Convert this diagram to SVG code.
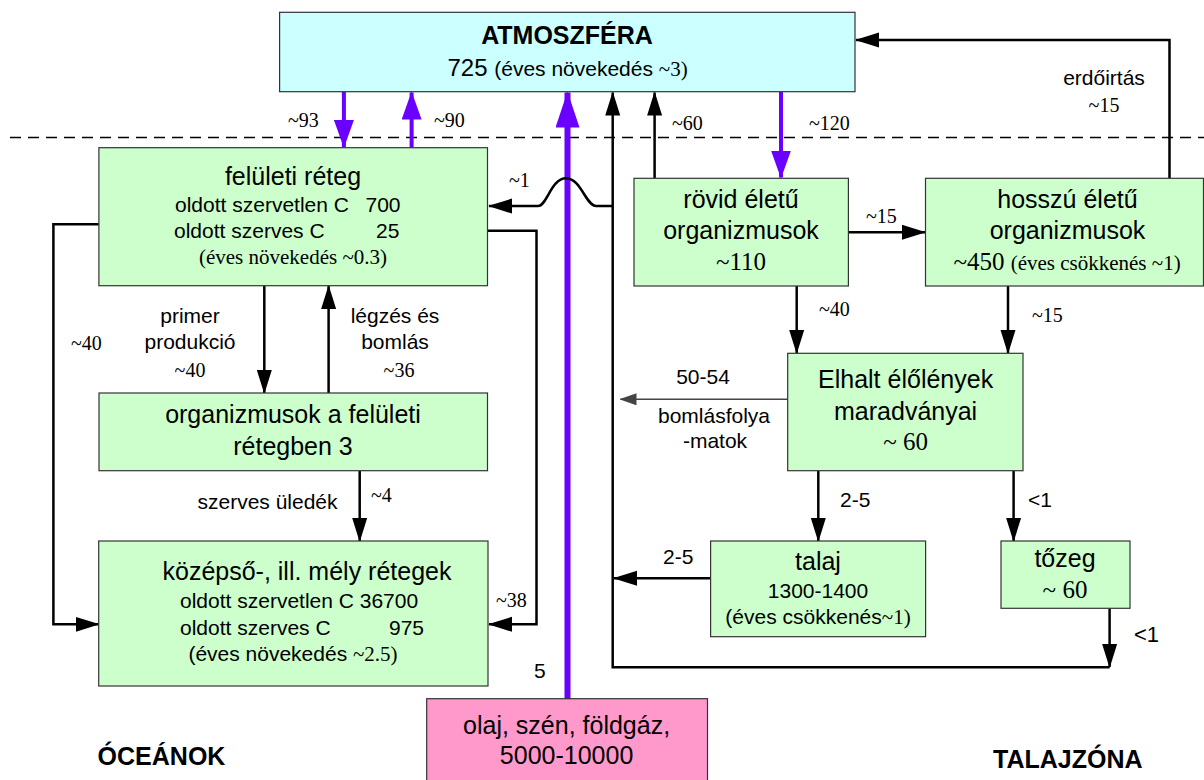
<svg xmlns="http://www.w3.org/2000/svg" width="1204" height="780" viewBox="0 0 1204 780">
<style>
.box{stroke:#333;stroke-width:1.2}
.g{fill:#CCFFCC}.c{fill:#CCFFFF}.p{fill:#FF99CC}
text{fill:#000}
.s{font-family:"Liberation Sans",Arial,sans-serif}
.t{font-family:"Liberation Serif","Times New Roman",serif}
.b{font-weight:bold;font-size:25px}
.m{font-size:25px}.sub{font-size:21px}.lab{font-size:20px}
.mid{text-anchor:middle}.end{text-anchor:end}
.ln{fill:none;stroke:#000;stroke-width:2.5}
.pl{fill:none;stroke:#6A00FF;stroke-width:4}
.pb{fill:none;stroke:#6A00FF;stroke-width:6}
.thin{fill:none;stroke:#444;stroke-width:1.5}
.dash{fill:none;stroke:#000;stroke-width:1.5;stroke-dasharray:11 7}
</style>
<defs>
<marker id="ah" markerUnits="userSpaceOnUse" markerWidth="24" markerHeight="16" refX="23" refY="8" orient="auto"><path d="M0,0.5 L24,8 L0,15.5 z" fill="#000"/></marker>
<marker id="ahp" markerUnits="userSpaceOnUse" markerWidth="28" markerHeight="20" refX="27" refY="10" orient="auto"><path d="M0,0 L28,10 L0,20 z" fill="#6A00FF"/></marker>
<marker id="ahb" markerUnits="userSpaceOnUse" markerWidth="36" markerHeight="24" refX="35" refY="12" orient="auto"><path d="M0,0 L36,12 L0,24 z" fill="#6A00FF"/></marker>
<marker id="aht" markerUnits="userSpaceOnUse" markerWidth="17" markerHeight="12" refX="16" refY="6" orient="auto"><path d="M0,0 L17,6 L0,12 z" fill="#444"/></marker>
</defs>
<rect width="1204" height="780" fill="#fff"/>
<line class="dash" x1="10" y1="137.5" x2="1204" y2="137.5"/>

<g id="connectors">
<path class="pl" d="M343.9,92 V147" marker-end="url(#ahp)"/>
<path class="pl" d="M411.6,147.7 V92.5" marker-end="url(#ahp)"/>
<path class="pb" d="M567.5,699 V92.5" marker-end="url(#ahb)"/>
<path class="pl" d="M781,92 V177.5" marker-end="url(#ahp)"/>
<path class="ln" d="M1109.6,608.3 V667" marker-end="url(#ah)"/>
<path class="ln" d="M1109.6,667.3 H612.7 V92.5" marker-end="url(#ah)"/>
<path class="ln" d="M654.6,178.3 V92.5" marker-end="url(#ah)"/>
<path class="ln" d="M1169.5,178.3 V40 H856" marker-end="url(#ah)"/>
<path class="ln" d="M848.4,232.3 H925" marker-end="url(#ah)"/>
<path class="ln" d="M796.7,286 V353" marker-end="url(#ah)"/>
<path class="ln" d="M1008,286 V353" marker-end="url(#ah)"/>
<path class="thin" d="M787.7,399.3 H620.5" marker-end="url(#aht)"/>
<path class="ln" d="M818.3,470.7 V541" marker-end="url(#ah)"/>
<path class="ln" d="M1013.6,470.7 V541" marker-end="url(#ah)"/>
<path class="ln" d="M710.6,578.3 H614" marker-end="url(#ah)"/>
<path class="ln" d="M612.7,206 H596 C586,206 581,178.3 566,178.3 C551,178.3 547,206 538,206 H489" marker-end="url(#ah)"/>
<path class="ln" d="M264.3,285.7 V393" marker-end="url(#ah)"/>
<path class="ln" d="M328.6,393 V286" marker-end="url(#ah)"/>
<path class="ln" d="M359.7,470.7 V541" marker-end="url(#ah)"/>
<path class="ln" d="M98.9,224.3 H53.4 V624.3 H98.7" marker-end="url(#ah)"/>
<path class="ln" d="M487.5,230.7 H536.5 V624.3 H489" marker-end="url(#ah)"/>
</g>

<g id="labels">
<text class="t lab" x="288" y="127">~93</text>
<text class="t lab" x="434" y="127">~90</text>
<text class="t lab" x="672" y="130">~60</text>
<text class="t lab" x="809" y="130">~120</text>
<text class="s sub mid" x="1104" y="85">erdőirtás</text>
<text class="t lab mid" x="1104" y="112">~15</text>
<text class="t lab" x="509" y="187">~1</text>
<text class="t lab" x="866" y="223">~15</text>
<text class="t lab" x="71" y="350">~40</text>
<text class="s sub mid" x="190" y="323">primer</text>
<text class="s sub mid" x="190" y="349">produkció</text>
<text class="t lab mid" x="190" y="377">~40</text>
<text class="s sub mid" x="395" y="323">légzés és</text>
<text class="s sub mid" x="395" y="349">bomlás</text>
<text class="t lab mid" x="399" y="377">~36</text>
<text class="s sub mid" x="267.5" y="509">szerves üledék</text>
<text class="t lab" x="371" y="502">~4</text>
<text class="t lab" x="496" y="607">~38</text>
<text class="s sub" x="534" y="678">5</text>
<text class="t lab" x="819" y="316">~40</text>
<text class="t lab" x="1032" y="322">~15</text>
<text class="s sub mid" x="703" y="384">50-54</text>
<text class="s sub mid" x="714" y="423">bomlásfolya</text>
<text class="s sub mid" x="715" y="448">-matok</text>
<text class="s sub" x="840" y="507">2-5</text>
<text class="s sub" x="1028" y="507">&lt;1</text>
<text class="s sub" x="663" y="564">2-5</text>
<text class="s" font-size="22" x="1134" y="642">&lt;1</text>
<text class="s b" x="97.6" y="765">ÓCEÁNOK</text>
<text class="s b" x="993" y="768">TALAJZÓNA</text>
</g>

<g id="atmoszfera">
<rect class="box c" x="279.6" y="12.3" width="575.4" height="79.4"/>
<text class="s b mid" x="567" y="44">ATMOSZFÉRA</text>
<text class="s mid" x="567.6" y="76"><tspan font-size="24">725 </tspan><tspan font-size="21">(éves növekedés </tspan><tspan class="t" font-size="21">~3)</tspan></text>
</g>

<g id="feluleti-reteg">
<rect class="box g" x="98.9" y="147.7" width="388.6" height="138"/>
<text class="s m mid" x="293" y="185">felületi réteg</text>
<text class="s sub" y="211.7"><tspan x="175">oldott szervetlen C</tspan><tspan x="400.5" text-anchor="end">700</tspan></text>
<text class="s sub" y="237.7"><tspan x="174">oldott szerves C</tspan><tspan x="399.4" text-anchor="end">25</tspan></text>
<text class="t sub mid" x="293" y="264">(éves növekedés ~0.3)</text>
</g>

<g id="organizmusok-feluleti">
<rect class="box g" x="99" y="393" width="388.5" height="77.7"/>
<text class="s m mid" x="293" y="423">organizmusok a felületi</text>
<text class="s m mid" x="293" y="455">rétegben 3</text>
</g>

<g id="kozepso-mely">
<rect class="box g" x="98.7" y="541" width="389.3" height="145"/>
<text class="s m mid" x="307" y="580">középső-, ill. mély rétegek</text>
<text class="s sub" y="608"><tspan x="180">oldott szervetlen C 36700</tspan></text>
<text class="s sub" y="635"><tspan x="180">oldott szerves C</tspan><tspan x="424" text-anchor="end">975</tspan></text>
<text class="s sub mid" x="293" y="661">(éves növekedés <tspan class="t">~2.5)</tspan></text>
</g>

<g id="olaj">
<rect class="box p" x="426.7" y="698.7" width="280.8" height="90"/>
<text class="s m mid" x="566.6" y="734">olaj, szén, földgáz,</text>
<text class="s m mid" x="566.6" y="764">5000-10000</text>
</g>

<g id="rovid-eletu">
<rect class="box g" x="634" y="178.3" width="214.4" height="107.7"/>
<text class="s m mid" x="741" y="208.3">rövid életű</text>
<text class="s m mid" x="741" y="239.3">organizmusok</text>
<text class="t mid" font-size="25" x="741" y="270">~110</text>
</g>

<g id="hosszu-eletu">
<rect class="box g" x="925.5" y="178.3" width="278" height="107.7"/>
<text class="s m mid" x="1067.5" y="208.3">hosszú életű</text>
<text class="s m mid" x="1067.5" y="239.3">organizmusok</text>
<text class="t mid" x="1067" y="270"><tspan font-size="25">~450 </tspan><tspan font-size="21">(éves csökkenés ~1)</tspan></text>
</g>

<g id="elhalt">
<rect class="box g" x="787.7" y="353.3" width="235.3" height="117.4"/>
<text class="s m mid" x="905.6" y="388.3">Elhalt élőlények</text>
<text class="s m mid" x="905.6" y="420">maradványai</text>
<text class="t mid" font-size="25" x="905.6" y="450">~ 60</text>
</g>

<g id="talaj">
<rect class="box g" x="710.6" y="541" width="215" height="95.7"/>
<text class="s m mid" x="818" y="570">talaj</text>
<text class="s sub mid" x="818" y="598">1300-1400</text>
<text class="s sub mid" x="818" y="624">(éves csökkenés<tspan class="t">~1)</tspan></text>
</g>

<g id="tozeg">
<rect class="box g" x="1001" y="541" width="129" height="67.3"/>
<text class="s m mid" x="1065" y="567">tőzeg</text>
<text class="t mid" font-size="25" x="1065" y="598">~ 60</text>
</g>
</svg>
